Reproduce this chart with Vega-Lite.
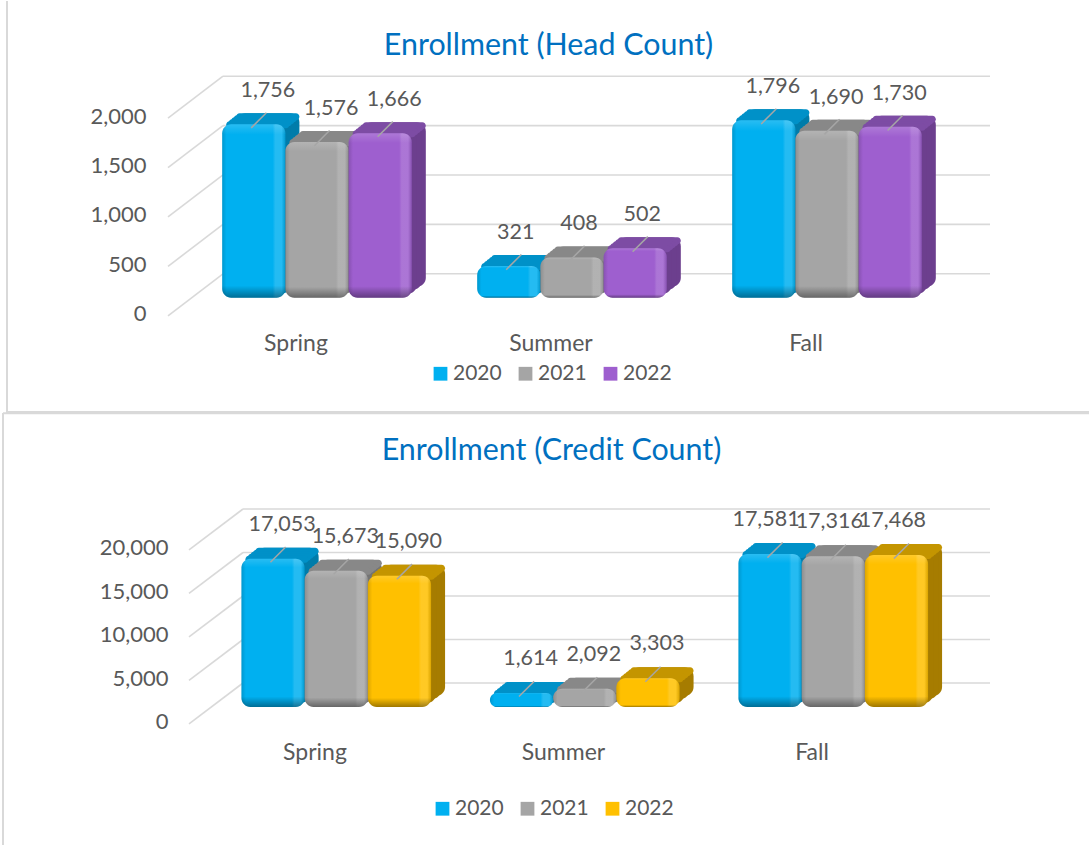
{"$schema":"https://vega.github.io/schema/vega-lite/v6.json","padding":0,"spacing":0,"bounds":"flush","autosize":{"type":"pad"},"background":"white",
"resolve":{"scale":{"color":"independent"},"legend":{"color":"independent"}},
"config":{"view":{"stroke":null},"font":"Lato","axis":{"labelFont":"Lato","labelColor":"#595959"},"legend":{"labelFont":"Lato","labelColor":"#595959"}},
"datasets":{
"head":[{"season":"Spring","year":"2020","count":1756},{"season":"Spring","year":"2021","count":1576},{"season":"Spring","year":"2022","count":1666},{"season":"Summer","year":"2020","count":321},{"season":"Summer","year":"2021","count":408},{"season":"Summer","year":"2022","count":502},{"season":"Fall","year":"2020","count":1796},{"season":"Fall","year":"2021","count":1690},{"season":"Fall","year":"2022","count":1730}],
"credit":[{"season":"Spring","year":"2020","count":17053},{"season":"Spring","year":"2021","count":15673},{"season":"Spring","year":"2022","count":15090},{"season":"Summer","year":"2020","count":1614},{"season":"Summer","year":"2021","count":2092},{"season":"Summer","year":"2022","count":3303},{"season":"Fall","year":"2020","count":17581},{"season":"Fall","year":"2021","count":17316},{"season":"Fall","year":"2022","count":17468}],
"headTicks":[{"v":0,"front":-425},{"v":500,"front":75},{"v":1000,"front":575},{"v":1500,"front":1075},{"v":2000,"front":1575}],
"creditTicks":[{"v":0,"front":-4700},{"v":5000,"front":300},{"v":10000,"front":5300},{"v":15000,"front":10300},{"v":20000,"front":15300}]},
"vconcat":[
{"width":1089,"height":412,
"title":{"text":"Enrollment (Head Count)","fontSize":30.4,"font":"Lato","fontWeight":"normal","color":"#0070C0","anchor":"middle","frame":"group","offset":-61,"dx":4},
"resolve":{"scale":{"x":"independent","color":"independent"},"axis":{"y":"independent"},"legend":{"color":"independent"}},
"data":{"name":"head"},
"layer":[
{"data":{"values":[{"f":"frame"}]},"mark":{"type":"rule","color":"#D9D9D9","strokeWidth":2},"encoding":{"x":{"datum":7,"type":"quantitative","axis":null,"scale":{"domain":[0,1089],"range":[0,1089]}}}},
{"data":{"values":[{"f":"frame"}]},"mark":{"type":"rule","color":"#D9D9D9","strokeWidth":2},"encoding":{"x":{"datum":7,"type":"quantitative","axis":null,"scale":{"domain":[0,1089],"range":[0,1089]}},"x2":{"datum":1089},"y":{"datum":-1400,"type":"quantitative","axis":null}}},
{"data":{"name":"headTicks"},"mark":{"type":"rule","color":"#D9D9D9","strokeWidth":1.6},"encoding":{"x":{"datum":168,"type":"quantitative","axis":null,"scale":{"domain":[0,1089],"range":[0,1089]}},"x2":{"datum":223},"y":{"field":"front","type":"quantitative","axis":null},"y2":{"field":"v"}}},
{"data":{"name":"headTicks"},"mark":{"type":"rule","color":"#D9D9D9","strokeWidth":1.6},"encoding":{"x":{"datum":223,"type":"quantitative","axis":null,"scale":{"domain":[0,1089],"range":[0,1089]}},"x2":{"datum":990},"y":{"field":"v","type":"quantitative","axis":null}}},
{"mark":{"type":"bar","cornerRadius":9,"yOffset":13,"y2Offset":13},"encoding":{"x":{"field":"season","type":"nominal","sort":["Spring","Summer","Fall"],"axis":null,"scale":{"range":[203.5,968.5],"paddingInner":0,"paddingOuter":0}},"xOffset":{"field":"year","type":"nominal","scale":{"paddingInner":0,"paddingOuter":0.517}},"y":{"field":"count","type":"quantitative","axis":null},"y2":{"datum":0},"color":{"field":"year","type":"nominal","legend":null,"scale":{"domain":["2020","2021","2022"],"range":["#007CAA","#747474","#6C3F8E"]}}}},
{"mark":{"type":"bar","cornerRadius":9,"yOffset":16,"y2Offset":16},"encoding":{"x":{"field":"season","type":"nominal","sort":["Spring","Summer","Fall"],"axis":null,"scale":{"range":[199.5,964.5],"paddingInner":0,"paddingOuter":0}},"xOffset":{"field":"year","type":"nominal","scale":{"paddingInner":0,"paddingOuter":0.517}},"y":{"field":"count","type":"quantitative","axis":null},"y2":{"datum":0},"color":{"field":"year","type":"nominal","legend":null,"scale":{"domain":["2020","2021","2022"],"range":["#007CAA","#747474","#6C3F8E"]}}}},
{"mark":{"type":"bar","cornerRadius":9,"yOffset":20,"y2Offset":20},"encoding":{"x":{"field":"season","type":"nominal","sort":["Spring","Summer","Fall"],"axis":null,"scale":{"range":[194.5,959.5],"paddingInner":0,"paddingOuter":0}},"xOffset":{"field":"year","type":"nominal","scale":{"paddingInner":0,"paddingOuter":0.517}},"y":{"field":"count","type":"quantitative","axis":null},"y2":{"datum":0},"color":{"field":"year","type":"nominal","legend":null,"scale":{"domain":["2020","2021","2022"],"range":["#007CAA","#747474","#6C3F8E"]}}}},
{"mark":{"type":"bar","cornerRadius":6,"yOffset":13,"y2Offset":20},"encoding":{"x":{"field":"season","type":"nominal","sort":["Spring","Summer","Fall"],"axis":null,"scale":{"range":[203.5,968.5],"paddingInner":0,"paddingOuter":0}},"xOffset":{"field":"year","type":"nominal","scale":{"paddingInner":0,"paddingOuter":0.517}},"y":{"field":"count","type":"quantitative","axis":null},"y2":{"field":"count"},"color":{"field":"year","type":"nominal","legend":null,"scale":{"domain":["2020","2021","2022"],"range":["#0091C8","#888888","#7D4CA4"]}}}},
{"mark":{"type":"bar","cornerRadius":6,"yOffset":15,"y2Offset":22},"encoding":{"x":{"field":"season","type":"nominal","sort":["Spring","Summer","Fall"],"axis":null,"scale":{"range":[201,966],"paddingInner":0,"paddingOuter":0}},"xOffset":{"field":"year","type":"nominal","scale":{"paddingInner":0,"paddingOuter":0.517}},"y":{"field":"count","type":"quantitative","axis":null},"y2":{"field":"count"},"color":{"field":"year","type":"nominal","legend":null,"scale":{"domain":["2020","2021","2022"],"range":["#0091C8","#888888","#7D4CA4"]}}}},
{"mark":{"type":"bar","cornerRadius":6,"yOffset":17,"y2Offset":24},"encoding":{"x":{"field":"season","type":"nominal","sort":["Spring","Summer","Fall"],"axis":null,"scale":{"range":[198.5,963.5],"paddingInner":0,"paddingOuter":0}},"xOffset":{"field":"year","type":"nominal","scale":{"paddingInner":0,"paddingOuter":0.517}},"y":{"field":"count","type":"quantitative","axis":null},"y2":{"field":"count"},"color":{"field":"year","type":"nominal","legend":null,"scale":{"domain":["2020","2021","2022"],"range":["#0091C8","#888888","#7D4CA4"]}}}},
{"mark":{"type":"bar","cornerRadius":6,"yOffset":19,"y2Offset":26},"encoding":{"x":{"field":"season","type":"nominal","sort":["Spring","Summer","Fall"],"axis":null,"scale":{"range":[196,961],"paddingInner":0,"paddingOuter":0}},"xOffset":{"field":"year","type":"nominal","scale":{"paddingInner":0,"paddingOuter":0.517}},"y":{"field":"count","type":"quantitative","axis":null},"y2":{"field":"count"},"color":{"field":"year","type":"nominal","legend":null,"scale":{"domain":["2020","2021","2022"],"range":["#0091C8","#888888","#7D4CA4"]}}}},
{"mark":{"type":"bar","cornerRadius":6,"yOffset":21,"y2Offset":28},"encoding":{"x":{"field":"season","type":"nominal","sort":["Spring","Summer","Fall"],"axis":null,"scale":{"range":[193.5,958.5],"paddingInner":0,"paddingOuter":0}},"xOffset":{"field":"year","type":"nominal","scale":{"paddingInner":0,"paddingOuter":0.517}},"y":{"field":"count","type":"quantitative","axis":null},"y2":{"field":"count"},"color":{"field":"year","type":"nominal","legend":null,"scale":{"domain":["2020","2021","2022"],"range":["#0091C8","#888888","#7D4CA4"]}}}},
{"encoding":{
"x":{"field":"season","type":"nominal","sort":["Spring","Summer","Fall"],"scale":{"range":[189.5,954.5],"paddingInner":0,"paddingOuter":0},"axis":{"title":null,"orient":"bottom","offset":-81,"labelOffset":-21,"labelPadding":0,"labelAngle":0,"labelFontSize":23,"ticks":false,"domain":false,"grid":false}},
"xOffset":{"field":"year","type":"nominal","scale":{"paddingInner":0,"paddingOuter":0.517}},
"y":{"field":"count","type":"quantitative","scale":{"domain":[-1409,2761],"nice":false,"zero":false},"axis":{"title":null,"values":[0,500,1000,1500,2000],"format":",d","offset":-146,"labelPadding":0,"labelOffset":40,"labelFontSize":22,"ticks":false,"domain":false,"grid":false}}},
"layer":[
{"mark":{"type":"bar","cornerRadius":9,"yOffset":24,"y2Offset":24},"encoding":{"y2":{"datum":0},"color":{"field":"year","type":"nominal","scale":{"domain":["2020","2021","2022"],"range":["#00B0F0","#A5A5A5","#9E5FCF"]},"legend":{"title":null,"orient":"none","legendX":430,"legendY":362,"direction":"horizontal","columns":3,"symbolType":"square","symbolSize":190,"symbolStrokeWidth":0,"labelFontSize":21,"labelOffset":2,"columnPadding":13}}}},
{"mark":{"type":"bar","cornerRadius":9,"yOffset":24,"y2Offset":24,"fill":{"gradient":"linear","x1":0,"x2":1,"y1":0,"y2":0,"stops":[{"offset":0,"color":"rgba(0,0,0,0.14)"},{"offset":0.07,"color":"rgba(0,0,0,0)"},{"offset":0.8,"color":"rgba(255,255,255,0)"},{"offset":0.84,"color":"rgba(255,255,255,0.14)"},{"offset":0.94,"color":"rgba(255,255,255,0.14)"},{"offset":1,"color":"rgba(0,0,0,0.14)"}]}},"encoding":{"y2":{"datum":0}}},
{"mark":{"type":"bar","cornerRadius":9,"yOffset":24,"y2Offset":24,"fill":{"gradient":"linear","x1":0,"x2":0,"y1":0,"y2":1,"stops":[{"offset":0,"color":"rgba(255,255,255,0.16)"},{"offset":0.06,"color":"rgba(255,255,255,0)"},{"offset":0.93,"color":"rgba(0,0,0,0)"},{"offset":1,"color":"rgba(0,0,0,0.38)"}]}},"encoding":{"y2":{"datum":0}}},
{"transform":[{"filter":"datum.season=='Spring'"}],"mark":{"type":"text","fontSize":21.5,"color":"#595959","baseline":"middle","dx":14,"dy":-9,"font":"Lato"},"encoding":{"text":{"field":"count","type":"quantitative","format":","}}},
{"transform":[{"filter":"datum.season=='Summer'"}],"mark":{"type":"text","fontSize":21.5,"color":"#595959","baseline":"middle","dx":7,"dy":-9,"font":"Lato"},"encoding":{"text":{"field":"count","type":"quantitative","format":","}}},
{"transform":[{"filter":"datum.season=='Fall'"}],"mark":{"type":"text","fontSize":21.5,"color":"#595959","baseline":"middle","dx":9,"dy":-9,"font":"Lato"},"encoding":{"text":{"field":"count","type":"quantitative","format":","}}}
]},
{"mark":{"type":"point","shape":"M-1,1L1,-1","filled":false,"stroke":"#A6A6A6","strokeWidth":1.5,"size":230,"yOffset":20,"opacity":1},
"encoding":{"x":{"field":"season","type":"nominal","sort":["Spring","Summer","Fall"],"axis":null,"scale":{"range":[194.5,959.5],"paddingInner":0,"paddingOuter":0}},"xOffset":{"field":"year","type":"nominal","scale":{"paddingInner":0,"paddingOuter":0.517}},"y":{"field":"count","type":"quantitative","axis":null}}}
]},
{"width":1089,"height":433,
"title":{"text":"Enrollment (Credit Count)","fontSize":30.4,"font":"Lato","fontWeight":"normal","color":"#0070C0","anchor":"middle","frame":"group","offset":-54,"dx":7},
"resolve":{"scale":{"x":"independent","color":"independent"},"axis":{"y":"independent"},"legend":{"color":"independent"}},
"data":{"name":"credit"},
"layer":[
{"data":{"values":[{"f":"frame"}]},"mark":{"type":"rule","color":"#D9D9D9","strokeWidth":2},"encoding":{"x":{"datum":3,"type":"quantitative","axis":null,"scale":{"domain":[0,1089],"range":[0,1089]}}}},
{"data":{"values":[{"f":"frame"}]},"mark":{"type":"rule","color":"#D9D9D9","strokeWidth":2},"encoding":{"x":{"datum":3,"type":"quantitative","axis":null,"scale":{"domain":[0,1089],"range":[0,1089]}},"x2":{"datum":1089},"y":{"datum":31000,"type":"quantitative","axis":null}}},
{"data":{"name":"creditTicks"},"mark":{"type":"rule","color":"#D9D9D9","strokeWidth":1.6},"encoding":{"x":{"datum":189,"type":"quantitative","axis":null,"scale":{"domain":[0,1089],"range":[0,1089]}},"x2":{"datum":243},"y":{"field":"front","type":"quantitative","axis":null},"y2":{"field":"v"}}},
{"data":{"name":"creditTicks"},"mark":{"type":"rule","color":"#D9D9D9","strokeWidth":1.6},"encoding":{"x":{"datum":243,"type":"quantitative","axis":null,"scale":{"domain":[0,1089],"range":[0,1089]}},"x2":{"datum":990},"y":{"field":"v","type":"quantitative","axis":null}}},
{"mark":{"type":"bar","cornerRadius":9,"yOffset":13,"y2Offset":13},"encoding":{"x":{"field":"season","type":"nominal","sort":["Spring","Summer","Fall"],"axis":null,"scale":{"range":[222.75,968.25],"paddingInner":0,"paddingOuter":0}},"xOffset":{"field":"year","type":"nominal","scale":{"paddingInner":0,"paddingOuter":0.53}},"y":{"field":"count","type":"quantitative","axis":null},"y2":{"datum":0},"color":{"field":"year","type":"nominal","legend":null,"scale":{"domain":["2020","2021","2022"],"range":["#007CAA","#747474","#A67C00"]}}}},
{"mark":{"type":"bar","cornerRadius":9,"yOffset":16,"y2Offset":16},"encoding":{"x":{"field":"season","type":"nominal","sort":["Spring","Summer","Fall"],"axis":null,"scale":{"range":[218.75,964.25],"paddingInner":0,"paddingOuter":0}},"xOffset":{"field":"year","type":"nominal","scale":{"paddingInner":0,"paddingOuter":0.53}},"y":{"field":"count","type":"quantitative","axis":null},"y2":{"datum":0},"color":{"field":"year","type":"nominal","legend":null,"scale":{"domain":["2020","2021","2022"],"range":["#007CAA","#747474","#A67C00"]}}}},
{"mark":{"type":"bar","cornerRadius":9,"yOffset":20,"y2Offset":20},"encoding":{"x":{"field":"season","type":"nominal","sort":["Spring","Summer","Fall"],"axis":null,"scale":{"range":[213.75,959.25],"paddingInner":0,"paddingOuter":0}},"xOffset":{"field":"year","type":"nominal","scale":{"paddingInner":0,"paddingOuter":0.53}},"y":{"field":"count","type":"quantitative","axis":null},"y2":{"datum":0},"color":{"field":"year","type":"nominal","legend":null,"scale":{"domain":["2020","2021","2022"],"range":["#007CAA","#747474","#A67C00"]}}}},
{"mark":{"type":"bar","cornerRadius":6,"yOffset":13,"y2Offset":20},"encoding":{"x":{"field":"season","type":"nominal","sort":["Spring","Summer","Fall"],"axis":null,"scale":{"range":[222.75,968.25],"paddingInner":0,"paddingOuter":0}},"xOffset":{"field":"year","type":"nominal","scale":{"paddingInner":0,"paddingOuter":0.53}},"y":{"field":"count","type":"quantitative","axis":null},"y2":{"field":"count"},"color":{"field":"year","type":"nominal","legend":null,"scale":{"domain":["2020","2021","2022"],"range":["#0091C8","#888888","#C49500"]}}}},
{"mark":{"type":"bar","cornerRadius":6,"yOffset":15,"y2Offset":22},"encoding":{"x":{"field":"season","type":"nominal","sort":["Spring","Summer","Fall"],"axis":null,"scale":{"range":[220.25,965.75],"paddingInner":0,"paddingOuter":0}},"xOffset":{"field":"year","type":"nominal","scale":{"paddingInner":0,"paddingOuter":0.53}},"y":{"field":"count","type":"quantitative","axis":null},"y2":{"field":"count"},"color":{"field":"year","type":"nominal","legend":null,"scale":{"domain":["2020","2021","2022"],"range":["#0091C8","#888888","#C49500"]}}}},
{"mark":{"type":"bar","cornerRadius":6,"yOffset":17,"y2Offset":24},"encoding":{"x":{"field":"season","type":"nominal","sort":["Spring","Summer","Fall"],"axis":null,"scale":{"range":[217.75,963.25],"paddingInner":0,"paddingOuter":0}},"xOffset":{"field":"year","type":"nominal","scale":{"paddingInner":0,"paddingOuter":0.53}},"y":{"field":"count","type":"quantitative","axis":null},"y2":{"field":"count"},"color":{"field":"year","type":"nominal","legend":null,"scale":{"domain":["2020","2021","2022"],"range":["#0091C8","#888888","#C49500"]}}}},
{"mark":{"type":"bar","cornerRadius":6,"yOffset":19,"y2Offset":26},"encoding":{"x":{"field":"season","type":"nominal","sort":["Spring","Summer","Fall"],"axis":null,"scale":{"range":[215.25,960.75],"paddingInner":0,"paddingOuter":0}},"xOffset":{"field":"year","type":"nominal","scale":{"paddingInner":0,"paddingOuter":0.53}},"y":{"field":"count","type":"quantitative","axis":null},"y2":{"field":"count"},"color":{"field":"year","type":"nominal","legend":null,"scale":{"domain":["2020","2021","2022"],"range":["#0091C8","#888888","#C49500"]}}}},
{"mark":{"type":"bar","cornerRadius":6,"yOffset":21,"y2Offset":28},"encoding":{"x":{"field":"season","type":"nominal","sort":["Spring","Summer","Fall"],"axis":null,"scale":{"range":[212.75,958.25],"paddingInner":0,"paddingOuter":0}},"xOffset":{"field":"year","type":"nominal","scale":{"paddingInner":0,"paddingOuter":0.53}},"y":{"field":"count","type":"quantitative","axis":null},"y2":{"field":"count"},"color":{"field":"year","type":"nominal","legend":null,"scale":{"domain":["2020","2021","2022"],"range":["#0091C8","#888888","#C49500"]}}}},
{"encoding":{
"x":{"field":"season","type":"nominal","sort":["Spring","Summer","Fall"],"scale":{"range":[208.75,954.25],"paddingInner":0,"paddingOuter":0},"axis":{"title":null,"orient":"bottom","offset":-105,"labelOffset":-18,"labelPadding":0,"labelAngle":0,"labelFontSize":23,"ticks":false,"domain":false,"grid":false}},
"xOffset":{"field":"year","type":"nominal","scale":{"paddingInner":0,"paddingOuter":0.53}},
"y":{"field":"count","type":"quantitative","scale":{"domain":[-18736,31034],"nice":false,"zero":false},"axis":{"title":null,"values":[0,5000,10000,15000,20000],"format":",d","offset":-168,"labelPadding":0,"labelOffset":39,"labelFontSize":22,"ticks":false,"domain":false,"grid":false}}},
"layer":[
{"mark":{"type":"bar","cornerRadius":9,"yOffset":24,"y2Offset":24},"encoding":{"y2":{"datum":0},"color":{"field":"year","type":"nominal","scale":{"domain":["2020","2021","2022"],"range":["#00B0F0","#A5A5A5","#FFC000"]},"legend":{"title":null,"orient":"none","legendX":432,"legendY":385,"direction":"horizontal","columns":3,"symbolType":"square","symbolSize":190,"symbolStrokeWidth":0,"labelFontSize":21,"labelOffset":2,"columnPadding":13}}}},
{"mark":{"type":"bar","cornerRadius":9,"yOffset":24,"y2Offset":24,"fill":{"gradient":"linear","x1":0,"x2":1,"y1":0,"y2":0,"stops":[{"offset":0,"color":"rgba(0,0,0,0.14)"},{"offset":0.07,"color":"rgba(0,0,0,0)"},{"offset":0.8,"color":"rgba(255,255,255,0)"},{"offset":0.84,"color":"rgba(255,255,255,0.14)"},{"offset":0.94,"color":"rgba(255,255,255,0.14)"},{"offset":1,"color":"rgba(0,0,0,0.14)"}]}},"encoding":{"y2":{"datum":0}}},
{"mark":{"type":"bar","cornerRadius":9,"yOffset":24,"y2Offset":24,"fill":{"gradient":"linear","x1":0,"x2":0,"y1":0,"y2":1,"stops":[{"offset":0,"color":"rgba(255,255,255,0.16)"},{"offset":0.06,"color":"rgba(255,255,255,0)"},{"offset":0.93,"color":"rgba(0,0,0,0)"},{"offset":1,"color":"rgba(0,0,0,0.38)"}]}},"encoding":{"y2":{"datum":0}}},
{"transform":[{"filter":"datum.season=='Spring'"}],"mark":{"type":"text","fontSize":21.5,"color":"#595959","baseline":"middle","dx":9,"dy":-10,"font":"Lato"},"encoding":{"text":{"field":"count","type":"quantitative","format":","}}},
{"transform":[{"filter":"datum.season=='Summer'"}],"mark":{"type":"text","fontSize":21.5,"color":"#595959","baseline":"middle","dx":9,"dy":-10,"font":"Lato"},"encoding":{"text":{"field":"count","type":"quantitative","format":","}}},
{"transform":[{"filter":"datum.season=='Fall'"}],"mark":{"type":"text","fontSize":21.5,"color":"#595959","baseline":"middle","dx":-4,"dy":-10,"font":"Lato"},"encoding":{"text":{"field":"count","type":"quantitative","format":","}}}
]},
{"mark":{"type":"point","shape":"M-1,1L1,-1","filled":false,"stroke":"#A6A6A6","strokeWidth":1.5,"size":230,"yOffset":20,"opacity":1},
"encoding":{"x":{"field":"season","type":"nominal","sort":["Spring","Summer","Fall"],"axis":null,"scale":{"range":[213.75,959.25],"paddingInner":0,"paddingOuter":0}},"xOffset":{"field":"year","type":"nominal","scale":{"paddingInner":0,"paddingOuter":0.53}},"y":{"field":"count","type":"quantitative","axis":null}}}
]}
]}
